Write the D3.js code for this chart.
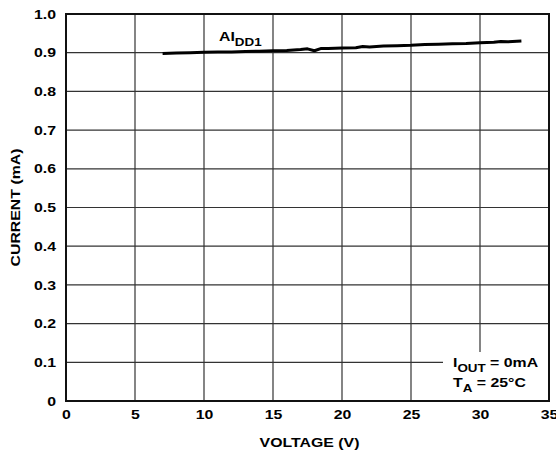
<!DOCTYPE html>
<html><head><meta charset="utf-8">
<script src="https://cdn.jsdelivr.net/npm/d3@7"></script>
<style>body{margin:0;background:#fff}svg{display:block}text{font-family:Arial,"Liberation Sans",sans-serif;font-weight:bold;fill:#000}</style>
</head><body><svg id="c" width="556" height="452"></svg>
<script>
const voltage = [7, 8, 9, 10, 11, 12, 13, 14, 15, 16, 17, 17.5, 18, 18.5, 19, 20, 21, 21.5, 22, 23, 24, 25, 26, 27, 28, 29, 30, 31, 31.5, 32, 33];
const current = [0.898, 0.899, 0.900, 0.901, 0.902, 0.902, 0.903, 0.904, 0.905, 0.906, 0.908, 0.910, 0.905, 0.911, 0.911, 0.912, 0.913, 0.916, 0.915, 0.917, 0.918, 0.919, 0.921, 0.922, 0.923, 0.924, 0.926, 0.927, 0.929, 0.928, 0.930];
const xTicks = [0, 5, 10, 15, 20, 25, 30, 35];
const yTicks = [0, 0.1, 0.2, 0.3, 0.4, 0.5, 0.6, 0.7, 0.8, 0.9, 1.0];
const yTickLabels = ["0", "0.1", "0.2", "0.3", "0.4", "0.5", "0.6", "0.7", "0.8", "0.9", "1.0"];

const FS = 13, SUB = 11, SX = 1.22;
const svg = d3.select("#c");
const L = 66, R = 549, T = 14, B = 401;
const x = d3.scaleLinear().domain([0, 35]).range([L, R]);
const y = d3.scaleLinear().domain([0, 1]).range([B, T]);

// grid
const g = svg.append("g");
g.selectAll(".vg").data(xTicks.slice(1, -1)).enter().append("line")
  .attr("x1", d => x(d)).attr("x2", d => x(d)).attr("y1", T).attr("y2", B)
  .attr("stroke", "#333").attr("stroke-width", 1.2);
g.selectAll(".hg").data(yTicks.slice(1, -1)).enter().append("line")
  .attr("x1", L).attr("x2", R).attr("y1", d => y(d)).attr("y2", d => y(d))
  .attr("stroke", "#333").attr("stroke-width", 1.2);

// axes (labels only)
const xAxis = svg.append("g").attr("transform", `translate(0,${B})`)
  .call(d3.axisBottom(x).tickValues(xTicks).tickSize(0).tickPadding(9).tickFormat(d3.format("d")));
xAxis.select(".domain").remove();
xAxis.selectAll("text").attr("font-size", FS).attr("font-family", null).attr("font-weight", "bold").attr("fill", "#000")
  .attr("transform", `scale(${SX},1)`);

const yAxis = svg.append("g").attr("transform", `translate(${L},0)`)
  .call(d3.axisLeft(y).tickValues(yTicks).tickSize(0).tickPadding(10).tickFormat((d, i) => yTickLabels[i]));
yAxis.select(".domain").remove();
yAxis.selectAll("text").attr("font-size", FS).attr("font-weight", "bold").attr("fill", "#000")
  .attr("x", -10 / SX).attr("transform", `scale(${SX},1)`);
svg.selectAll(".tick text").attr("font-family", "Arial, 'Liberation Sans', sans-serif");

// annotation box (white)
svg.append("rect").attr("x", 443).attr("y", 352).attr("width", 106).attr("height", 48).attr("fill", "#fff");

// border
svg.append("rect").attr("x", L).attr("y", T).attr("width", R - L).attr("height", B - T)
  .attr("fill", "none").attr("stroke", "#111").attr("stroke-width", 2);

// data line
const line = d3.line().x((d, i) => x(voltage[i])).y(d => y(d)).curve(d3.curveLinear);
svg.append("path").datum(current).attr("d", line)
  .attr("fill", "none").attr("stroke", "#000").attr("stroke-width", 3).attr("stroke-linejoin", "round");

function label(px, py, parts, rot, anchor) {
  const gg = svg.append("g").attr("transform", `translate(${px},${py})` + (rot ? ` rotate(${rot})` : "") + ` scale(${SX},1)`);
  const t = gg.append("text").attr("font-size", FS).attr("text-anchor", anchor || "start");
  parts.forEach(p => {
    const s = t.append("tspan").text(p.t);
    if (p.sub) s.attr("font-size", SUB).attr("dy", p.dy);
    else if (p.dy) s.attr("dy", p.dy);
  });
  return t;
}

// curve label
label(219, 41, [{t: "AI"}, {t: "DD1", sub: true, dy: 4.5}]);

// conditions
label(453, 367, [{t: "I"}, {t: "OUT", sub: true, dy: 5}, {t: " = 0mA", dy: -5}]);
label(453, 387, [{t: "T"}, {t: "A", sub: true, dy: 5}, {t: " = 25°C", dy: -5}]);

// axis titles
label(309.5, 447, [{t: "VOLTAGE (V)"}], 0, "middle");
label(20, (T + B) / 2, [{t: "CURRENT (mA)"}], -90, "middle");
</script></body></html>
